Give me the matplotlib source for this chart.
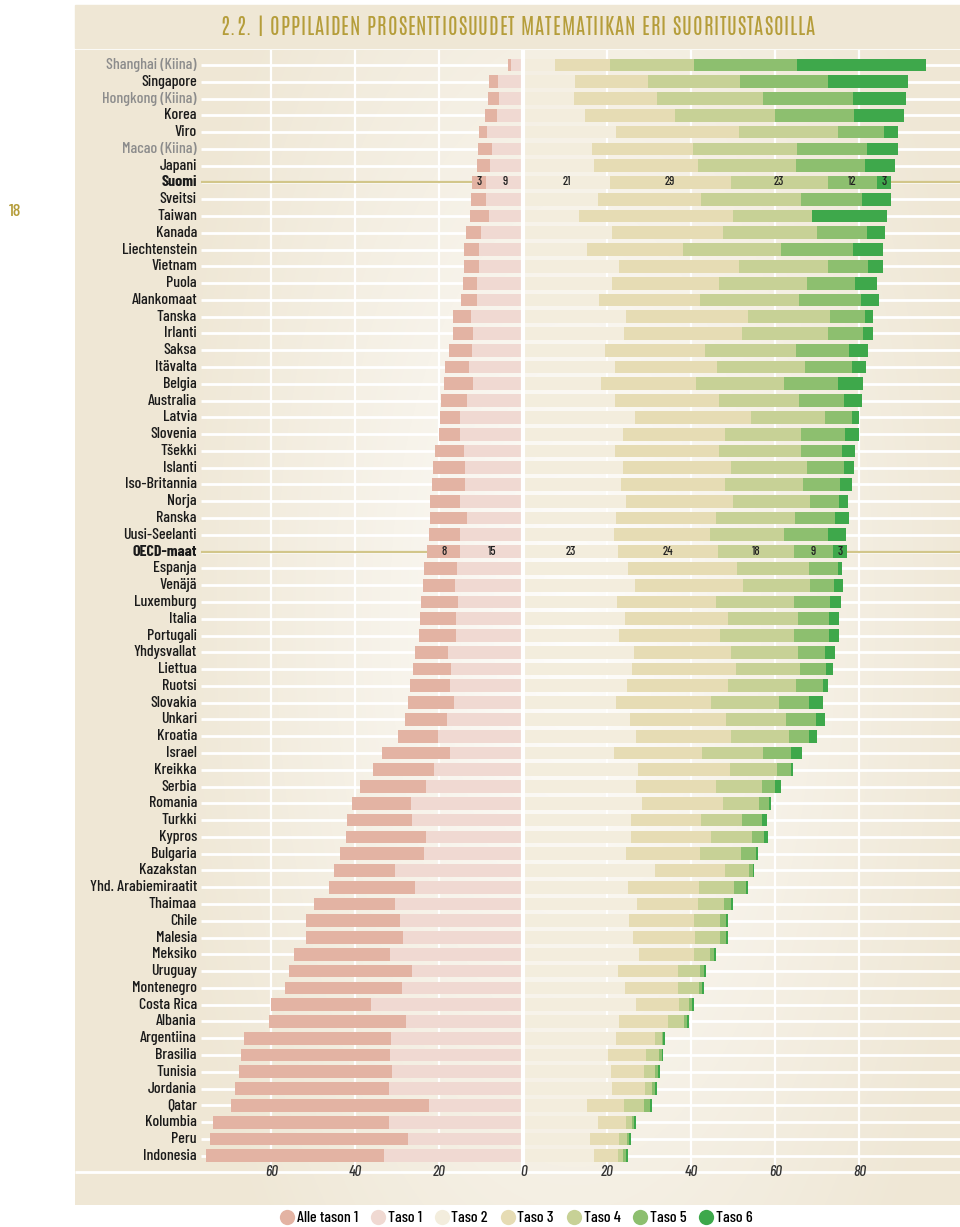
import numpy as np
import matplotlib
matplotlib.use("Agg")
import matplotlib.pyplot as plt
from matplotlib.lines import Line2D
from matplotlib.patches import Rectangle
from matplotlib.font_manager import FontProperties

countries = ["Shanghai (Kiina)", "Singapore", "Hongkong (Kiina)", "Korea", "Viro",
             "Macao (Kiina)", "Japani", "Suomi", "Sveitsi", "Taiwan",
             "Kanada", "Liechtenstein", "Vietnam", "Puola", "Alankomaat",
             "Tanska", "Irlanti", "Saksa", "Itävalta", "Belgia",
             "Australia", "Latvia", "Slovenia", "Tšekki", "Islanti",
             "Iso-Britannia", "Norja", "Ranska", "Uusi-Seelanti", "OECD-maat",
             "Espanja", "Venäjä", "Luxemburg", "Italia", "Portugali",
             "Yhdysvallat", "Liettua", "Ruotsi", "Slovakia", "Unkari",
             "Kroatia", "Israel", "Kreikka", "Serbia", "Romania",
             "Turkki", "Kypros", "Bulgaria", "Kazakstan", "Yhd. Arabiemiraatit",
             "Thaimaa", "Chile", "Malesia", "Meksiko", "Uruguay",
             "Montenegro", "Costa Rica", "Albania", "Argentiina", "Brasilia",
             "Tunisia", "Jordania", "Qatar", "Kolumbia", "Peru", "Indonesia"]

below1 = [0.8, 2.2, 2.6, 2.7, 2.0, 3.2, 3.2, 3.3, 3.6, 4.5,
          3.6, 3.5, 3.6, 3.3, 3.8, 4.4, 4.8, 5.5, 5.7, 7.0,
          6.1, 4.8, 5.1, 6.8, 7.5, 7.8, 7.3, 8.8, 7.6, 8.0,
          7.8, 7.6, 8.8, 8.6, 8.9, 8.0, 8.9, 9.5, 11.1, 10.0,
          9.5, 16.1, 14.6, 15.6, 14.2, 15.6, 19.1, 20.1, 14.6, 20.6,
          19.4, 22.2, 23.1, 22.8, 29.3, 27.7, 23.7, 32.7, 35.1, 35.3,
          36.6, 36.7, 47.1, 41.8, 47.1, 42.4]
level1 = [2.9, 6.1, 5.9, 6.4, 8.6, 7.6, 7.9, 8.9, 8.9, 8.3,
          10.2, 10.6, 10.6, 11.1, 11.0, 12.5, 12.1, 12.2, 13.0, 12.0,
          13.5, 15.1, 15.0, 14.2, 14.0, 14.0, 15.0, 13.5, 15.0, 15.0,
          15.8, 16.4, 15.5, 16.1, 16.0, 17.9, 17.3, 17.5, 16.5, 18.1,
          20.4, 17.5, 21.2, 23.3, 26.7, 26.5, 23.1, 23.7, 30.6, 25.8,
          30.5, 29.5, 28.6, 31.9, 26.5, 29.0, 36.3, 28.0, 31.5, 31.9,
          31.2, 32.0, 22.5, 32.1, 27.5, 33.3]
level2 = [7.5, 12.2, 12.0, 14.7, 22.0, 16.4, 16.9, 20.5, 17.8, 13.1,
          21.0, 15.2, 22.8, 21.1, 17.9, 24.4, 23.9, 19.4, 21.9, 18.4,
          21.9, 26.6, 23.6, 21.7, 23.6, 23.2, 24.3, 22.1, 21.6, 22.5,
          24.9, 26.6, 22.3, 24.1, 22.8, 26.3, 25.9, 24.7, 22.1, 25.3,
          26.7, 21.6, 27.2, 26.7, 28.3, 25.5, 25.5, 24.4, 31.4, 25.0,
          27.1, 25.2, 26.0, 27.6, 22.5, 24.2, 26.7, 22.8, 22.1, 20.2,
          20.9, 21.0, 15.2, 17.8, 15.9, 16.8]
level3 = [13.1, 17.5, 19.7, 21.4, 29.4, 24.0, 24.7, 28.8, 24.5, 36.7,
          26.4, 22.7, 28.4, 25.5, 24.2, 29.0, 28.2, 23.7, 24.2, 22.6,
          24.6, 27.6, 24.3, 24.8, 25.7, 24.8, 25.7, 23.8, 22.7, 23.7,
          26.0, 25.6, 23.5, 24.6, 24.0, 23.2, 24.6, 23.9, 22.5, 22.8,
          22.8, 21.0, 22.0, 19.2, 19.3, 16.8, 19.1, 17.7, 16.5, 16.7,
          14.4, 15.4, 14.8, 13.1, 14.3, 12.7, 10.4, 11.6, 9.2, 8.9,
          7.9, 7.9, 8.7, 6.5, 6.8, 5.6]
level4 = [19.9, 21.8, 25.4, 23.8, 23.4, 24.7, 23.4, 23.2, 23.8, 19.0,
          22.4, 23.3, 21.3, 20.9, 23.6, 19.5, 20.4, 21.9, 20.9, 21.0,
          19.2, 17.6, 18.1, 19.6, 18.2, 18.6, 18.1, 18.7, 17.8, 18.2,
          17.1, 16.0, 18.7, 16.7, 17.7, 15.9, 15.3, 16.2, 16.3, 14.4,
          13.7, 14.5, 11.2, 10.8, 8.4, 9.8, 9.9, 9.8, 5.9, 8.4,
          6.2, 6.1, 6.0, 3.7, 5.2, 4.9, 2.4, 3.9, 1.7, 3.2,
          2.5, 1.8, 4.7, 1.5, 1.9, 1.4]
level5 = [24.6, 20.9, 21.4, 18.7, 11.0, 16.6, 16.2, 11.7, 14.6, 0.0,
          11.9, 17.2, 9.5, 11.4, 14.7, 8.3, 8.3, 12.5, 11.3, 12.8,
          10.7, 6.4, 10.5, 9.8, 8.8, 8.7, 7.1, 9.6, 10.5, 9.3,
          7.0, 5.8, 8.4, 7.3, 8.2, 6.4, 6.3, 6.4, 7.1, 7.1,
          4.8, 6.7, 3.2, 3.1, 2.5, 4.6, 2.7, 3.4, 0.8, 2.9,
          1.6, 1.4, 1.3, 1.0, 0.9, 0.7, 0.7, 0.7, 0.3, 0.6,
          0.8, 0.6, 1.5, 0.6, 0.6, 0.6]
level6 = [30.7, 19.1, 12.6, 11.9, 3.3, 7.4, 7.3, 3.4, 6.7, 17.8,
          4.3, 7.3, 3.5, 5.2, 4.3, 2.0, 2.4, 4.6, 3.2, 6.0,
          4.1, 1.6, 3.4, 3.1, 2.4, 2.8, 2.0, 3.3, 4.3, 3.3,
          0.9, 2.0, 2.8, 2.5, 2.5, 2.4, 1.5, 1.4, 3.4, 2.1,
          2.0, 2.5, 0.6, 1.6, 0.4, 1.3, 0.9, 0.5, 0.3, 0.5,
          0.6, 0.5, 0.5, 0.4, 0.5, 0.4, 0.3, 0.4, 0.3, 0.4,
          0.5, 0.4, 0.5, 0.4, 0.4, 0.4]

level_names = ["Alle tason 1", "Taso 1", "Taso 2", "Taso 3", "Taso 4", "Taso 5", "Taso 6"]
level_colors = ["#e3b3a3", "#f0d9d2", "#f3eddd", "#e6dcb4", "#c7d196", "#8dbf6f", "#3ea84b"]
grey_rows = ["Shanghai (Kiina)", "Hongkong (Kiina)", "Macao (Kiina)"]
bold_rows = ["Suomi", "OECD-maat"]
tick_values = [-60, -40, -20, 0, 20, 40, 60, 80]
title = "2.2. | OPPILAIDEN PROSENTTIOSUUDET MATEMATIIKAN ERI SUORITUSTASOILLA"

FONT = ['Barlow Condensed', 'Liberation Sans Narrow', 'DejaVu Sans']
TITLE_FONT = ['Antonio', 'Barlow Condensed', 'DejaVu Sans']
BEIGE = np.array([239, 231, 213]) / 255.0
GOLD = '#b59d3a'

W, H = 960, 1227
fig = plt.figure(figsize=(W / 100, H / 100), dpi=100)
fig.patch.set_facecolor('white')
renderer = fig.canvas.get_renderer()


def fx(px):
    return px / W


def fy(py):
    return 1 - py / H


# title band
fig.patches.append(Rectangle((fx(75), fy(48)), 1 - fx(75), 43 / H,
                             transform=fig.transFigure, color=BEIGE, zorder=0))

# letter-spaced title, placed one glyph at a time
tprops = dict(fontsize=15, family=TITLE_FONT, fontweight='normal', color=GOLD)


def text_width(s):
    t = fig.text(0, 0, s + "|", **tprops)
    w = t.get_window_extent(renderer).width
    t.remove()
    return w


bar_w = text_width("")
prefix = [text_width(title[:k]) - bar_w for k in range(len(title) + 1)]
title_left, title_right = 220, 815
track = (title_right - title_left - prefix[-1]) / (len(title) - 1)
for k, ch in enumerate(title):
    if ch != ' ':
        fig.text(fx(title_left + prefix[k] + track * k), fy(35), ch,
                 ha='left', va='baseline', **tprops)

fig.text(fx(9), fy(211), "18", ha='left', va='center', color=GOLD,
         fontsize=13, family=FONT, fontweight='medium')

# chart panel, data units: 4.2 px per percent, 0 at px 523.5; rows every 16.78 px
px0, scale = 523.5, 4.2
row0, step = 65, 16.78
left_px, right_px, top_px, bot_px = 75, 960, 50, 1205
xlim = ((left_px - px0) / scale, (right_px - px0) / scale)
ylim = ((bot_px - row0) / step, (top_px - row0) / step)

ax = fig.add_axes([fx(left_px), fy(bot_px), fx(right_px) - fx(left_px), (bot_px - top_px) / H])
ax.set_xlim(xlim)
ax.set_ylim(ylim)
ax.axis('off')

# background: beige with a soft white glow around the middle
gx = np.arange(left_px, right_px)
gy = np.arange(top_px, bot_px)
XX, YY = np.meshgrid(gx, gy)
d = np.sqrt(((XX - 575) / 420.0) ** 2 + ((YY - 620) / 950.0) ** 2)
t = np.clip(d, 0, 1) ** 0.85
img = (1 - t)[..., None] * np.ones(3) + t[..., None] * BEIGE
ax.imshow(img, extent=[xlim[0], xlim[1], ylim[0], ylim[1]], origin='upper',
          aspect='auto', zorder=0, interpolation='bilinear')

n = len(countries)
y = np.arange(n)
tick_row = n
label_x = (197 - px0) / scale
line_x = (201 - px0) / scale

# grid
ax.hlines(y, line_x, xlim[1], color='white', lw=2, zorder=1)
ax.hlines(tick_row, xlim[0], xlim[1], color='white', lw=2, zorder=1)
ax.vlines([v for v in tick_values if v != 0], ylim[1], tick_row, color='white', lw=1.6, zorder=1)
for name in bold_rows:
    i = countries.index(name)
    ax.hlines(i, line_x, xlim[1], color='#d2c68a', lw=1.6, zorder=1.5)

# bars
levels = [below1, level1, level2, level3, level4, level5, level6]
b1 = np.array(below1)
l1 = np.array(level1)
bar_h = 0.76
ax.barh(y, b1, left=-(b1 + l1), height=bar_h, color=level_colors[0], lw=0, zorder=2)
ax.barh(y, l1, left=-l1, height=bar_h, color=level_colors[1], lw=0, zorder=2)
cum = np.zeros(n)
for k in range(2, 7):
    vals = np.array(levels[k])
    ax.barh(y, vals, left=cum, height=bar_h, color=level_colors[k], lw=0, zorder=2)
    cum += vals
ax.vlines(0, ylim[1], tick_row, color='white', lw=3, zorder=3)

# value labels for highlighted rows
for name in bold_rows:
    i = countries.index(name)
    vals = [lv[i] for lv in levels]
    centers = [-(vals[0] / 2 + vals[1]), -vals[1] / 2]
    c = 0
    for v in vals[2:]:
        centers.append(c + v / 2)
        c += v
    for v, cx in zip(vals, centers):
        ax.text(cx, i, str(int(v + 0.5)), ha='center', va='center', fontsize=9,
                family=FONT, fontweight='medium', color='#222222', zorder=4)

# country labels
for i, name in enumerate(countries):
    color = '#8c8c8c' if name in grey_rows else '#1a1a1a'
    weight = 'bold' if name in bold_rows else 'medium'
    ax.text(label_x, i, name, ha='right', va='center', fontsize=11.5,
            family=FONT, color=color, fontweight=weight, zorder=4)

# axis tick labels
for v in tick_values:
    ax.text(v, tick_row, str(abs(v)), ha='center', va='center', fontsize=11,
            family=FONT, style='italic', fontweight='medium', color='#333333', zorder=4)

# legend
handles = [Line2D([], [], marker='o', linestyle='none', markersize=11,
                  markerfacecolor=c, markeredgecolor='none') for c in level_colors]
fig.legend(handles, level_names, loc='center', bbox_to_anchor=(fx(516), fy(1218)),
           ncol=7, frameon=False, handletextpad=0.1, columnspacing=0.75,
           handlelength=1.0, prop=FontProperties(family=FONT, size=11.5, weight='medium'))

fig.savefig("out.png", dpi=100, facecolor='white')
